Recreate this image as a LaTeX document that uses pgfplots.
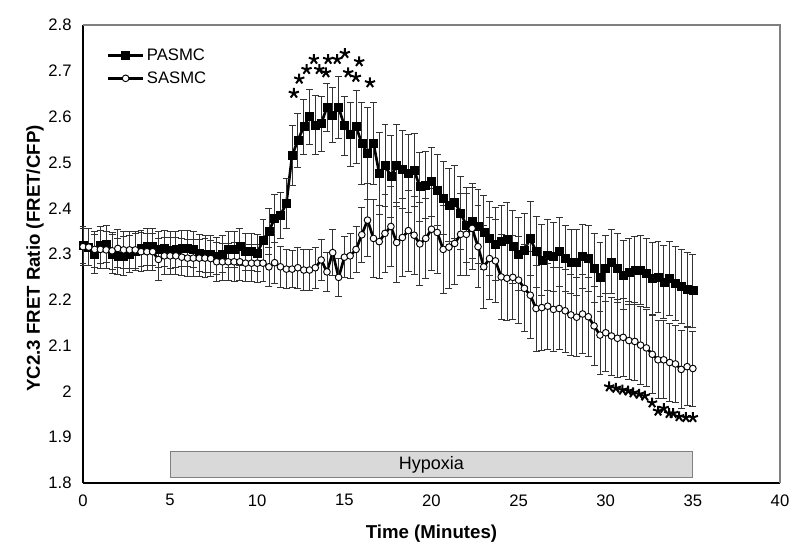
\documentclass[border=0pt]{standalone}
\usepackage{pgfplots}
\usepackage{pgfplotstable}
\pgfplotsset{compat=1.18}
\usepackage{fontspec}
\setmainfont{Liberation Sans}
\usetikzlibrary{plotmarks}
\definecolor{hyp}{RGB}{217,217,217}
\definecolor{frame}{RGB}{128,128,128}

\pgfplotstableread{
t P ep S es
0.00 2.320 0.040 2.316 0.040
0.33 2.315 0.040 2.315 0.040
0.67 2.300 0.042 2.310 0.040
1.00 2.320 0.040 2.310 0.042
1.33 2.322 0.040 2.309 0.040
1.67 2.300 0.042 2.307 0.040
2.00 2.295 0.040 2.312 0.042
2.33 2.296 0.042 2.309 0.040
2.67 2.300 0.040 2.309 0.040
3.00 2.305 0.040 2.309 0.040
3.33 2.312 0.040 2.305 0.042
3.67 2.316 0.040 2.305 0.040
4.00 2.316 0.040 2.305 0.040
4.33 2.310 0.040 2.288 0.045
4.67 2.312 0.040 2.296 0.040
5.00 2.309 0.040 2.296 0.040
5.33 2.310 0.040 2.296 0.040
5.67 2.312 0.040 2.293 0.040
6.00 2.312 0.040 2.291 0.040
6.33 2.310 0.040 2.291 0.040
6.67 2.302 0.040 2.291 0.040
7.00 2.300 0.040 2.291 0.042
7.33 2.300 0.040 2.290 0.040
7.67 2.296 0.040 2.283 0.042
8.00 2.300 0.040 2.283 0.040
8.33 2.310 0.040 2.283 0.040
8.67 2.310 0.040 2.283 0.042
9.00 2.316 0.040 2.283 0.040
9.33 2.305 0.040 2.280 0.040
9.67 2.305 0.040 2.280 0.040
10.00 2.302 0.040 2.280 0.042
10.33 2.330 0.045 2.280 0.040
10.67 2.350 0.050 2.272 0.042
11.00 2.378 0.052 2.281 0.045
11.33 2.385 0.050 2.272 0.045
11.67 2.410 0.055 2.267 0.042
12.00 2.515 0.065 2.267 0.040
12.33 2.548 0.060 2.270 0.045
12.67 2.578 0.060 2.265 0.045
13.00 2.600 0.060 2.265 0.045
13.33 2.582 0.065 2.270 0.045
13.67 2.585 0.060 2.287 0.045
14.00 2.620 0.053 2.261 0.042
14.33 2.603 0.060 2.303 0.050
14.67 2.620 0.067 2.249 0.042
15.00 2.580 0.065 2.293 0.045
15.33 2.562 0.070 2.296 0.050
15.67 2.578 0.080 2.310 0.050
16.00 2.542 0.090 2.342 0.060
16.33 2.520 0.100 2.374 0.080
16.67 2.542 0.090 2.334 0.085
17.00 2.476 0.090 2.327 0.080
17.33 2.494 0.090 2.345 0.085
17.67 2.469 0.090 2.360 0.088
18.00 2.494 0.090 2.325 0.088
18.33 2.485 0.085 2.336 0.085
18.67 2.476 0.085 2.351 0.088
19.00 2.483 0.080 2.341 0.085
19.33 2.447 0.075 2.322 0.090
19.67 2.450 0.073 2.334 0.088
20.00 2.458 0.075 2.354 0.090
20.33 2.440 0.078 2.347 0.090
20.67 2.422 0.080 2.310 0.096
21.00 2.407 0.080 2.315 0.090
21.33 2.414 0.080 2.323 0.090
21.67 2.389 0.080 2.343 0.090
22.00 2.363 0.082 2.343 0.090
22.33 2.372 0.082 2.356 0.090
22.67 2.360 0.080 2.316 0.090
23.00 2.347 0.080 2.272 0.090
23.33 2.334 0.080 2.290 0.090
23.67 2.322 0.080 2.285 0.090
24.00 2.327 0.080 2.250 0.092
24.33 2.332 0.080 2.247 0.092
24.67 2.316 0.080 2.249 0.092
25.00 2.300 0.080 2.243 0.095
25.33 2.309 0.080 2.225 0.095
25.67 2.334 0.080 2.210 0.095
26.00 2.305 0.078 2.181 0.094
26.33 2.287 0.078 2.183 0.094
26.67 2.298 0.078 2.186 0.094
27.00 2.294 0.075 2.179 0.092
27.33 2.305 0.075 2.181 0.090
27.67 2.291 0.072 2.176 0.090
28.00 2.283 0.070 2.167 0.088
28.33 2.281 0.072 2.162 0.086
28.67 2.294 0.070 2.169 0.086
29.00 2.291 0.072 2.163 0.086
29.33 2.269 0.075 2.143 0.086
29.67 2.250 0.075 2.123 0.085
30.00 2.269 0.072 2.128 0.085
30.33 2.283 0.070 2.121 0.085
30.67 2.269 0.075 2.116 0.085
31.00 2.254 0.075 2.118 0.085
31.33 2.261 0.072 2.111 0.085
31.67 2.264 0.075 2.109 0.085
32.00 2.265 0.075 2.101 0.085
32.33 2.259 0.075 2.095 0.085
32.67 2.247 0.078 2.081 0.085
33.00 2.250 0.078 2.069 0.085
33.33 2.239 0.080 2.069 0.085
33.67 2.247 0.080 2.063 0.085
34.00 2.236 0.080 2.060 0.085
34.33 2.229 0.080 2.048 0.085
34.67 2.223 0.080 2.054 0.085
35.00 2.220 0.080 2.050 0.082
}\datatable

\pgfplotstableread{
t y
12.10 2.651
12.41 2.682
12.83 2.703
13.25 2.725
13.56 2.703
13.94 2.696
14.07 2.725
14.59 2.725
15.03 2.738
15.22 2.696
15.66 2.686
15.85 2.720
16.47 2.674
}\starsup

\pgfplotstableread{
t y
30.20 2.010
30.58 2.007
30.96 2.003
31.29 2.001
31.57 1.997
31.92 1.994
32.24 1.990
32.66 1.975
33.00 1.957
33.33 1.963
33.64 1.952
33.87 1.952
34.21 1.945
34.60 1.943
35.00 1.943
}\starslow

\begin{document}
\begin{tikzpicture}
\begin{axis}[
  at={(0,0)}, anchor=south west,
  scale only axis,
  width=522.75pt, height=343.5pt,
  xmin=0, xmax=40, ymin=1.8, ymax=2.8,
  xtick={0,5,...,40},
  ytick={1.8,1.9,2,2.1,2.2,2.3,2.4,2.5,2.6,2.7,2.8},
  major tick length=0pt,
  axis lines=left,
  axis line style={black, line width=0.8pt, -},
  tick label style={font=\fontsize{12.5}{14}\selectfont, /pgf/number format/assume math mode=true},
  /pgf/number format/fixed,
  yticklabel style={xshift=-5pt},
  xticklabel style={yshift=-5pt},
  xlabel={Time (Minutes)},
  ylabel={YC2.3 FRET Ratio (FRET/CFP)},
  every axis x label/.style={at={(axis description cs:0.5,0)}, anchor=center, yshift=-38pt,
    font=\fontsize{14}{16}\selectfont\bfseries},
  every axis y label/.style={at={(axis description cs:0,0.49)}, anchor=center, rotate=90, yshift=36pt,
    font=\fontsize{14}{16}\selectfont\bfseries},
  legend style={at={(rel axis cs:0.034,0.955)}, anchor=north west, draw=none, fill=none,
    font=\fontsize{12.5}{14}\selectfont, row sep=3pt, inner sep=0pt,
    nodes={inner sep=2pt}},
  legend image code/.code={
    \draw[#1] (0pt,0pt) -- (26pt,0pt);
    \draw[#1, only marks] plot coordinates {(13pt,0pt)};
  },
  legend cell align=left,
  clip=false,
]
% Hypoxia bar
\addplot[draw=frame, fill=hyp, line width=0.8pt, forget plot] coordinates {(5,1.812) (35,1.812) (35,1.868) (5,1.868)} -- cycle;
\node[font=\fontsize{13.5}{15}\selectfont] at (axis cs:20,1.84) {Hypoxia};

\addplot[black, line width=2pt, mark=square*, mark size=3pt,
  mark options={solid, line width=0.4pt},
  error bars/.cd, y dir=both, y explicit,
  error bar style={black!80, line width=0.6pt},
  error mark options={rotate=90, mark size=2.6pt, black!80, line width=0.6pt}]
  table[x=t, y=P, y error=ep] {\datatable};
\addlegendentry{PASMC}

\addplot[black, line width=2pt, mark=*, mark size=2.5pt,
  mark options={solid, fill=white, line width=0.7pt},
  error bars/.cd, y dir=both, y explicit,
  error bar style={black!80, line width=0.6pt},
  error mark options={rotate=90, mark size=2.6pt, black!80, line width=0.6pt}]
  table[x=t, y=S, y error=es] {\datatable};
\addlegendentry{SASMC}

\addplot[only marks, mark=star, mark size=4pt, mark options={black, line width=1.5pt}, forget plot]
  table[x=t, y=y] {\starsup};
\addplot[only marks, mark=star, mark size=4pt, mark options={black, line width=1.5pt}, forget plot]
  table[x=t, y=y] {\starslow};

\draw[frame, line width=0.8pt] (rel axis cs:0,1) -- (rel axis cs:1,1) -- (rel axis cs:1,0);
\end{axis}
\pgfresetboundingbox
\useasboundingbox (-62.25pt,-54.75pt) rectangle (537.75pt,362.25pt);
\end{tikzpicture}
\end{document}
